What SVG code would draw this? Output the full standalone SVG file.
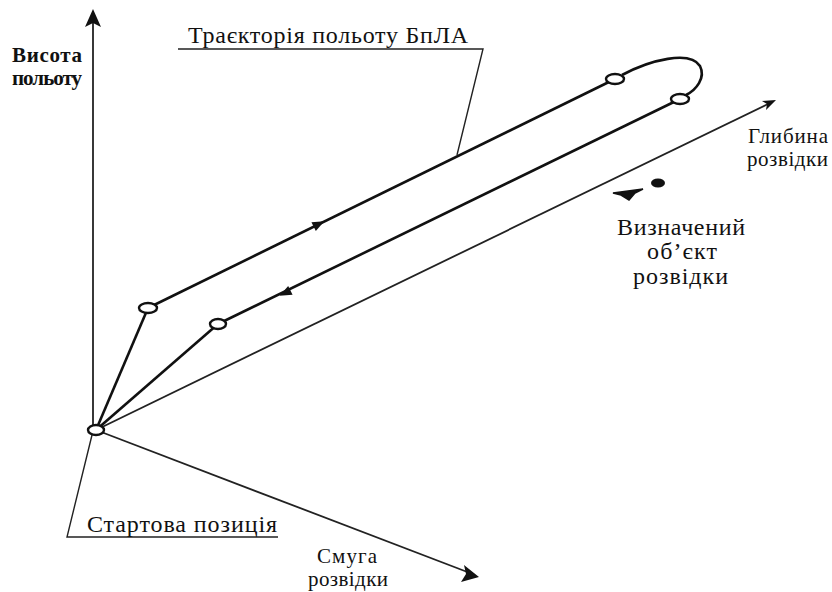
<svg xmlns="http://www.w3.org/2000/svg" width="832" height="592" viewBox="0 0 832 592">
<style>
.axis{stroke:#222;stroke-width:1.8;fill:none}
.traj{stroke:#111;stroke-width:2.6;fill:none}
.lead{stroke:#222;stroke-width:1.4;fill:none}
.wp{fill:#fff;stroke:#111;stroke-width:2.4}
.head{fill:#111}
</style>
<rect width="832" height="592" fill="#fff"/>
<g id="connectors">
  <line class="axis" x1="93" y1="430" x2="93" y2="20"/>
  <path class="head" d="M93,9 L101,27 L93,23 L85,27 Z"/>
  <line class="axis" x1="96" y1="430" x2="770" y2="103"/>
  <path class="head" d="M776,100 L762,101 L767,104 L766,110 Z"/>
  <line class="axis" x1="96" y1="430" x2="470" y2="573"/>
  <path class="head" d="M479,577 L461,582 L466,574 L464,565 Z"/>
  <line class="traj" x1="96" y1="430" x2="148" y2="308"/>
  <line class="traj" x1="148" y1="308" x2="615" y2="79"/>
  <path class="traj" d="M622,75 C650,60 690,50 700,66 C706,78 696,90 686,95"/>
  <line class="traj" x1="680" y1="99" x2="218" y2="324"/>
  <line class="traj" x1="218" y1="324" x2="96" y2="430"/>
  <path class="head" transform="translate(319,224) rotate(-26)" d="M6,0 L-6,-5 L-6,5 Z"/>
  <path class="head" transform="translate(285,293) rotate(154)" d="M6,0 L-6,-5 L-6,5 Z"/>
  <polyline class="lead" points="178,49 483,49 457,155"/>
  <polyline class="lead" points="92,435 67,537 278,537"/>
</g>
<g id="start-position">
  <ellipse class="wp" cx="96" cy="430" rx="8" ry="5"/>
</g>
<g id="waypoint-1"><ellipse class="wp" cx="148" cy="308" rx="9" ry="5"/></g>
<g id="waypoint-2"><ellipse class="wp" cx="615" cy="79" rx="9" ry="5"/></g>
<g id="waypoint-3"><ellipse class="wp" cx="680" cy="99" rx="9" ry="5"/></g>
<g id="waypoint-4"><ellipse class="wp" cx="218" cy="324" rx="8" ry="5"/></g>
<g id="target">
  <ellipse cx="658" cy="183" rx="7" ry="4.5" fill="#111"/>
  <path d="M613,193 L643,189 L635,193 L629,200 L621,195 Z" fill="#111" stroke="#111" stroke-width="1.5"/>
</g>
<g font-family="Liberation Serif, DejaVu Serif, serif" fill="#111">
<g id="label-height" font-size="21" font-weight="bold">
  <text x="12" y="62" textLength="70">Висота</text>
  <text x="12" y="85" textLength="70">польоту</text>
</g>
<g id="label-trajectory" font-size="24">
  <text x="188" y="43" textLength="280">Траєкторія польоту БпЛА</text>
</g>
<g id="label-depth" font-size="21">
  <text x="748" y="143" textLength="80">Глибина</text>
  <text x="747" y="166" textLength="81">розвідки</text>
</g>
<g id="label-target" font-size="24">
  <text x="617" y="235" textLength="128">Визначений</text>
  <text x="647" y="259" textLength="70">об’єкт</text>
  <text x="633" y="284" textLength="95">розвідки</text>
</g>
<g id="label-start" font-size="24">
  <text x="87" y="532" textLength="190">Стартова позиція</text>
</g>
<g id="label-width" font-size="21">
  <text x="317" y="563" textLength="60">Смуга</text>
  <text x="308" y="586" textLength="80">розвідки</text>
</g>
</g>
</svg>
